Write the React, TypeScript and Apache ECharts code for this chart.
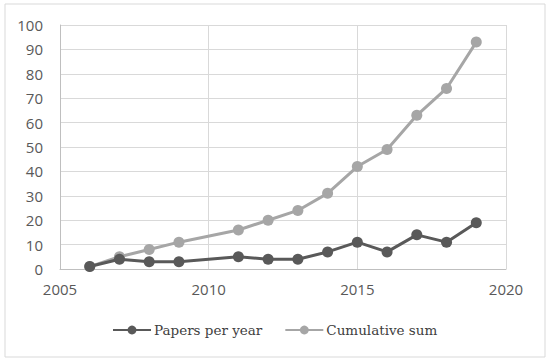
import React, { useEffect, useRef } from "react";
import * as echarts from "echarts";

const years = [2006, 2007, 2008, 2009, 2011, 2012, 2013, 2014, 2015, 2016, 2017, 2018, 2019];
const papersPerYear = [1, 4, 3, 3, 5, 4, 4, 7, 11, 7, 14, 11, 19];
const cumulativeSum = [1, 5, 8, 11, 16, 20, 24, 31, 42, 49, 63, 74, 93];
const seriesNames = ["Papers per year", "Cumulative sum"];

export default function App() {
  const ref = useRef<HTMLDivElement>(null);
  useEffect(() => {
    if (!ref.current) return;
    const chart = echarts.init(ref.current, null, { renderer: "svg" });
    const tickFont = { color: "#595959", fontSize: 15, fontFamily: "Open Sans" };
    chart.setOption({
      animation: false,
      backgroundColor: "#ffffff",
      graphic: [
        {
          type: "rect",
          shape: { x: 5, y: 4, width: 540, height: 353 },
          style: { fill: "none", stroke: "#d9d9d9", lineWidth: 1 },
          silent: true,
        },
      ],
      grid: { left: 60, right: 44, top: 25, bottom: 95, containLabel: false },
      legend: {
        top: 323,
        left: 112,
        padding: 0,
        itemWidth: 38,
        itemHeight: 11,
        itemGap: 22,
        textStyle: { color: "#404040", fontSize: 13.5, padding: [0, 0, 0, -2], fontFamily: "DejaVu Serif" },
        data: seriesNames,
      },
      xAxis: {
        type: "value",
        min: 2005,
        max: 2020,
        interval: 5,
        axisLine: { show: true, lineStyle: { color: "#bfbfbf", width: 1 } },
        axisTick: { show: false },
        splitLine: { show: true, lineStyle: { color: "#d9d9d9", width: 1 } },
        axisLabel: { ...tickFont, margin: 12, formatter: (v: number) => String(v) },
      },
      yAxis: {
        type: "value",
        min: 0,
        max: 100,
        interval: 10,
        axisLine: { show: true, lineStyle: { color: "#bfbfbf", width: 1 } },
        axisTick: { show: false },
        splitLine: { show: true, lineStyle: { color: "#d9d9d9", width: 1 } },
        axisLabel: { ...tickFont, margin: 17 },
      },
      series: [
        {
          name: seriesNames[0],
          type: "line",
          data: years.map((y, i) => [y, papersPerYear[i]]),
          symbol: "circle",
          symbolSize: 11,
          lineStyle: { color: "#595959", width: 3 },
          itemStyle: { color: "#595959" },
          z: 3,
        },
        {
          name: seriesNames[1],
          type: "line",
          data: years.map((y, i) => [y, cumulativeSum[i]]),
          symbol: "circle",
          symbolSize: 11,
          lineStyle: { color: "#a6a6a6", width: 3 },
          itemStyle: { color: "#a6a6a6" },
          z: 2,
        },
      ],
    });
    return () => chart.dispose();
  }, []);
  return <div ref={ref} style={{ width: 550, height: 364, position: "absolute", left: 0, top: 0 }} />;
}
